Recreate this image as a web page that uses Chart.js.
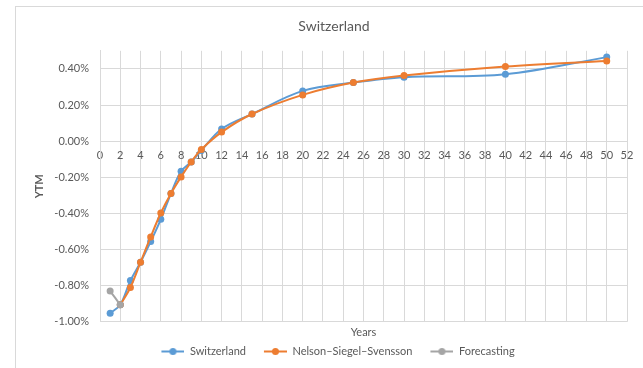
<!DOCTYPE html>
<html>
<head>
<meta charset="utf-8">
<script src="https://cdn.jsdelivr.net/npm/chart.js@4/dist/chart.umd.min.js"></script>
<style>
html,body{margin:0;padding:0;background:#fff;}
#wrap{position:relative;width:643px;height:368px;}
</style>
</head>
<body>
<div id="wrap"><canvas id="c" width="643" height="368"></canvas></div>
<script>
// ---- data ----
const seriesNames = ['Switzerland', 'Nelson\u2013Siegel\u2013Svensson', 'Forecasting'];
const swissYears = [1, 2, 3, 4, 5, 6, 7, 8, 9, 10, 12, 15, 20, 25, 30, 40, 50];
const swissYtm   = [-0.952, -0.906, -0.772, -0.67, -0.556, -0.433, -0.29, -0.167, -0.115, -0.052, 0.067, 0.15, 0.278, 0.324, 0.354, 0.37, 0.465];
const nssYears   = [2, 3, 4, 5, 6, 7, 8, 9, 10, 12, 15, 20, 25, 30, 40, 50];
const nssYtm     = [-0.906, -0.81, -0.67, -0.53, -0.398, -0.29, -0.198, -0.115, -0.046, 0.05, 0.15, 0.256, 0.324, 0.363, 0.413, 0.444];
const fcYears    = [1, 2];
const fcYtm      = [-0.83, -0.906];
const yTickValues = [-1.0, -0.8, -0.6, -0.4, -0.2, 0.0, 0.2, 0.4];
const xMin = 0, xMax = 52, xStep = 2;
const yMin = -1.0, yMax = 0.5;

const colors = ['#5B9BD5', '#ED7D31', '#A5A5A5'];
const textColor = '#595959';
const gridColor = '#d9d9d9';
const FONT = 'Lato, "Open Sans", sans-serif';

function pts(xs, ys) { return xs.map((x, i) => ({x: x, y: ys[i]})); }

const MARK_BLANK = 8, MARK_LINE = 23;
function legendMarker(color) {
  const cv = document.createElement('canvas');
  cv.width = MARK_BLANK + MARK_LINE; cv.height = 9;
  const g = cv.getContext('2d');
  g.strokeStyle = color; g.lineWidth = 2;
  g.beginPath(); g.moveTo(MARK_BLANK, 4.5); g.lineTo(MARK_BLANK + MARK_LINE, 4.5); g.stroke();
  g.fillStyle = color;
  g.beginPath(); g.arc(MARK_BLANK + MARK_LINE / 2, 4.5, 3.5, 0, Math.PI * 2); g.fill();
  return cv;
}
const markers = colors.map(legendMarker);

const framePlugin = {
  id: 'frame',
  beforeDraw(chart) {
    const ctx = chart.ctx;
    ctx.save();
    ctx.fillStyle = '#fff';
    ctx.fillRect(0, 0, chart.width, chart.height);
    ctx.strokeStyle = '#d9d9d9';
    ctx.lineWidth = 1;
    ctx.strokeRect(15.5, 6.5, 800, 500);
    ctx.restore();
  }
};

function mkDataset(i, xs, ys, order) {
  return {
    label: seriesNames[i],
    data: pts(xs, ys),
    borderColor: colors[i],
    backgroundColor: colors[i],
    pointBackgroundColor: colors[i],
    pointBorderColor: colors[i],
    pointRadius: 3.5,
    pointBorderWidth: 0,
    borderWidth: 2,
    tension: 0.35,
    fill: false,
    order: order
  };
}

new Chart(document.getElementById('c'), {
  type: 'line',
  data: {
    datasets: [
      mkDataset(0, swissYears, swissYtm, 3),
      mkDataset(1, nssYears, nssYtm, 2),
      mkDataset(2, fcYears, fcYtm, 1)
    ]
  },
  plugins: [framePlugin],
  options: {
    responsive: false,
    animation: false,
    events: [],
    layout: { padding: { left: 15, top: 6, right: -10, bottom: 1 } },
    plugins: {
      tooltip: { enabled: false },
      title: {
        display: true,
        text: 'Switzerland',
        color: textColor,
        font: { family: FONT, size: 14, weight: 'normal' },
        padding: { top: 12, bottom: 16 }
      },
      legend: {
        position: 'bottom',
        labels: {
          color: textColor,
          font: { family: FONT, size: 11 },
          usePointStyle: true,
          pointStyleWidth: MARK_BLANK + MARK_LINE,
          boxHeight: 9,
          padding: 10,
          sort: (a, b) => a.datasetIndex - b.datasetIndex,
          generateLabels(chart) {
            const items = Chart.defaults.plugins.legend.labels.generateLabels(chart);
            items.forEach(it => { it.pointStyle = markers[it.datasetIndex]; });
            return items;
          }
        }
      }
    },
    scales: {
      x: {
        type: 'linear',
        position: { y: 0 },
        min: xMin, max: xMax,
        ticks: {
          stepSize: xStep,
          color: textColor,
          font: { family: FONT, size: 11 },
          padding: 8,
          maxRotation: 0,
          autoSkip: false
        },
        grid: { color: gridColor, lineWidth: 1, drawTicks: false },
        border: { color: gridColor, width: 1 }
      },
      x2: {
        type: 'linear',
        position: 'bottom',
        display: true,
        ticks: { display: false },
        grid: { display: false, drawTicks: false },
        border: { display: false },
        title: {
          display: true,
          text: 'Years',
          color: textColor,
          font: { family: FONT, size: 11 },
          padding: { top: 4, bottom: -3 }
        }
      },
      y: {
        type: 'linear',
        position: 'left',
        min: yMin, max: yMax,
        afterBuildTicks(scale) { scale.ticks = yTickValues.map(v => ({ value: v })); },
        afterFit(scale) { scale.width = 85; },
        ticks: {
          color: textColor,
          font: { family: FONT, size: 11 },
          padding: 11,
          callback: v => v.toFixed(2) + '%'
        },
        grid: { color: gridColor, lineWidth: 1, drawTicks: false },
        border: { color: gridColor, width: 1 },
        title: {
          display: true,
          text: 'YTM',
          color: textColor,
          font: { family: FONT, size: 11, weight: 'bold' },
          padding: { top: 18, bottom: 0 }
        }
      },
      yRight: {
        type: 'linear',
        position: 'right',
        display: true,
        afterFit(scale) { scale.width = 26; },
        ticks: { display: false },
        grid: { display: false, drawTicks: false },
        border: { display: false }
      }
    }
  }
});
</script>
</body>
</html>
